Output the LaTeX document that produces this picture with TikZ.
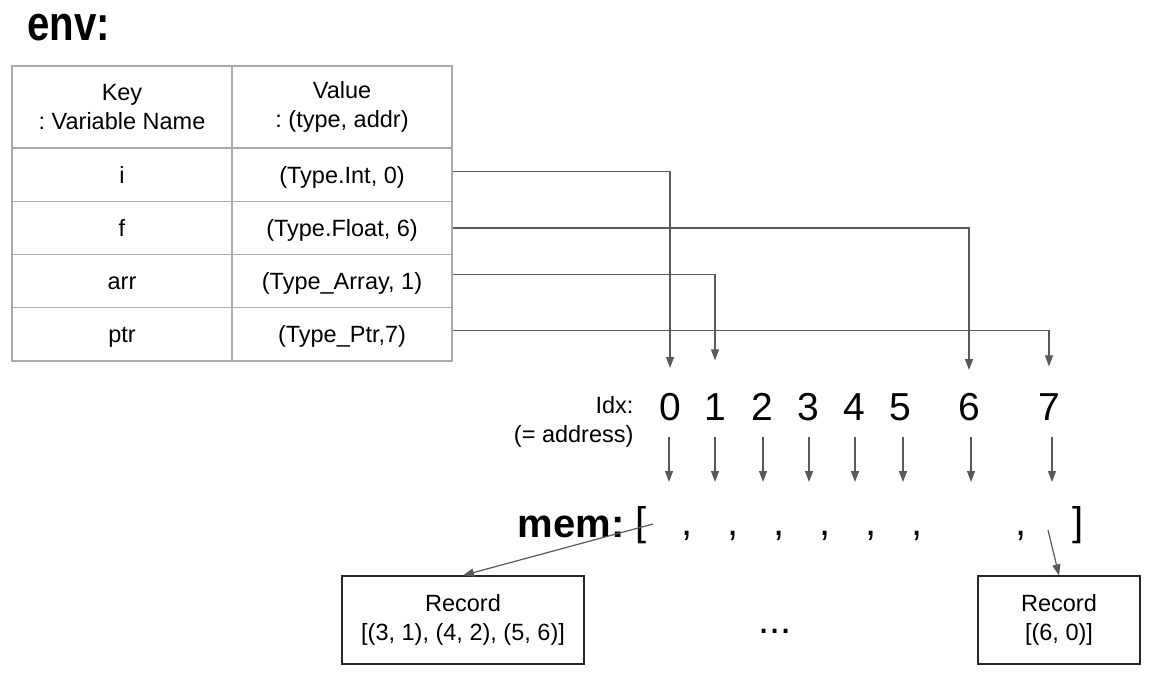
\documentclass[tikz,border=0pt]{standalone}
\usepackage{fontspec}
\setmainfont{Liberation Sans}
\newfontfamily\envfont[FakeStretch=0.82]{Liberation Sans}
\usetikzlibrary{arrows.meta,positioning}
\frenchspacing
\newcommand{\tabtext}{\fontsize{23.5}{28.5}\selectfont}
\newcommand{\bigtext}{\fontsize{39}{44}\selectfont}
\newcommand{\memtext}{\fontsize{40}{46}\selectfont}
\definecolor{linkgray}{HTML}{595959}
\definecolor{gridgray}{HTML}{AAAAAA}
\tikzset{
	cellbox/.style={draw=gridgray,line width=1.2pt,minimum width=220pt,inner sep=0pt,align=center,font=\tabtext},
	rowbox/.style={cellbox,minimum height=53.25pt,text height=16.8pt,text depth=0pt},
	link/.style={draw=linkgray,line width=1.2pt,-{Triangle[length=11pt,width=8pt]}},
	recbox/.style={draw=black!85,line width=1.2pt,inner sep=0pt,align=center,font=\tabtext,minimum height=88pt},
}
\begin{document}
\begin{tikzpicture}[x=1pt,y=-1pt]
	\useasboundingbox (0,0) rectangle (1151,675);
	\node[anchor=base west,font=\envfont\bfseries\fontsize{49}{55}\selectfont] (env) at (24,40) {env:};
	\node[cellbox,minimum height=82pt] (keyhead) at (122,107) {Key\\: Variable Name};
	\node[cellbox,minimum height=82pt] (valhead) at (342,107) {Value\\: (type, addr)};
	\foreach \k/\v [count=\r] in {i/{(Type.Int, 0)},f/{(Type.Float, 6)},arr/{(Type\_Array, 1)},ptr/{(Type\_Ptr,7)}}{
		\node[rowbox] (key\r) at (122,121.4+53.25*\r) {\k};
		\node[rowbox] (val\r) at (342,121.4+53.25*\r) {\v};
	}
	\node[anchor=base east,font=\tabtext] (idx) at (637,413) {Idx:};
	\node[anchor=base east,font=\tabtext] (addr) at (637,442) {(= address)};
	\foreach \i/\x/\ax in {0/670/669,1/715/715,2/762/763,3/808/809,4/854/855,5/900/903,6/969/971,7/1049/1052}{
		\node[inner sep=0pt,font=\bigtext] (d\i) at (\x,407) {\i};
		\coordinate (s\i) at (\ax,482);
		\draw[link,shorten <=16pt] (d\i.south -| s\i) -- (s\i);
	}
	\draw[link] ([yshift=3pt]val1.east) -| ([yshift=25pt]d0.north);
	\draw[link] (val2.east) -| ([yshift=23pt]d6.north);
	\draw[link] ([yshift=7pt]val3.east) -| ([yshift=33pt]d1.north);
	\draw[link] ([yshift=4pt]val4.east) -| ([yshift=27pt]d7.north);
	\node[anchor=base east,font=\bfseries\memtext] (mem) at (628,537) {mem:};
	\node[anchor=base,font=\memtext] (lbr) at (641,535) {[};
	\node[anchor=base,font=\memtext] (rbr) at (1078,535) {]};
	\foreach \c/\x in {1/687,2/733,3/779,4/825,5/871,6/917,7/1021}
		\node[anchor=base,font=\memtext] (comma\c) at (\x,535) {,};
	\node[recbox,minimum width=242pt] (rec1) at (463,620) {Record\\{[}(3, 1), (4, 2), (5, 6)]};
	\node[recbox,minimum width=162pt] (rec2) at (1059,620) {Record\\{[}(6, 0)]};
	\coordinate (m0) at (653,524);
	\coordinate (m7) at (1048,530);
	\draw[link] (m0) -- (rec1.north);
	\draw[link] (m7) -- (rec2.north);
	\node[anchor=base,font=\memtext] (dots) at (775,633) {...};
\end{tikzpicture}
\end{document}
